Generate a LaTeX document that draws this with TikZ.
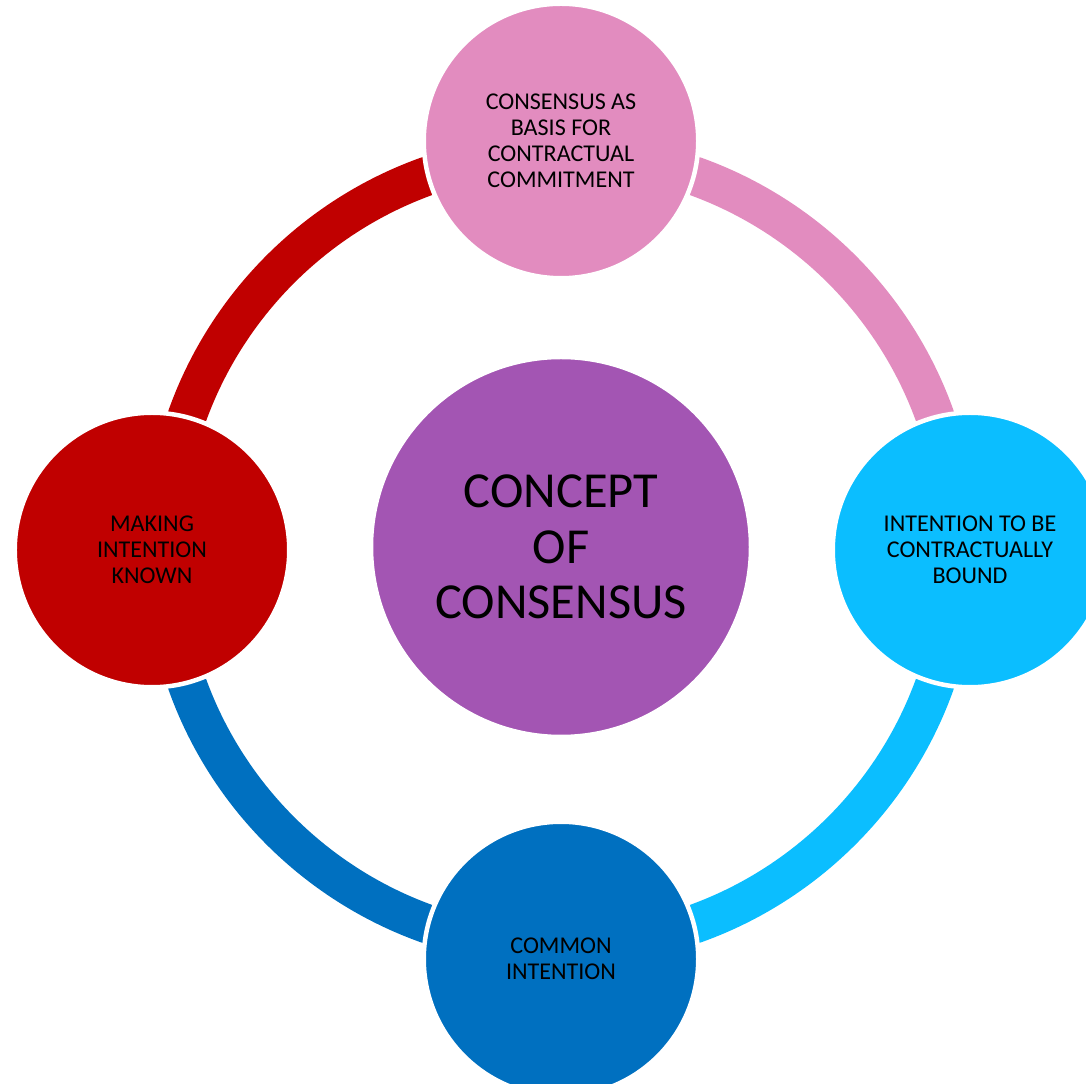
\documentclass[tikz,border=0pt]{standalone}
\usepackage{fontspec}
\setmainfont{Carlito}
\usepackage{tikz}
\definecolor{rosa}{HTML}{E28CBF}
\definecolor{celeste}{HTML}{0BBEFF}
\definecolor{blu}{HTML}{0070C0}
\definecolor{rosso}{HTML}{C00000}
\definecolor{viola}{HTML}{A355B3}

\begin{document}
\begin{tikzpicture}[
		bolla/.style={circle, draw=white, line width=0.09cm, minimum size=5.49cm, inner sep=0pt, align=center, text=black, font=\fontsize{13.7}{14.9}\selectfont},
		anello/.style={line width=0.78cm}]
		%\draw [help lines] (-11,-11) grid (11,11);
		\useasboundingbox (-11.22,-10.66) rectangle (10.50,11.00);
		\coordinate (o) at (0,0);
		% Ring
		\draw [anello, rosa] (o) ++(90:7.94) arc (90:0:7.94);
		\draw [anello, celeste] (o) ++(0:7.94) arc (0:-90:7.94);
		\draw [anello, blu] (o) ++(-90:7.94) arc (-90:-180:7.94);
		\draw [anello, rosso] (o) ++(180:7.94) arc (180:90:7.94);
		% Centre
		\node [bolla, fill=viola, minimum size=7.6cm, font=\fontsize{28.7}{31.4}\selectfont] (centro) at (0,0.06) {CONCEPT\\OF\\CONSENSUS};
		% Outer circles
		\node [bolla, fill=rosa] (alto) at (0,8.18) {CONSENSUS AS\\BASIS FOR\\CONTRACTUAL\\COMMITMENT};
		\node [bolla, fill=celeste] (destra) at (8.18,0) {INTENTION TO BE\\CONTRACTUALLY\\BOUND};
		\node [bolla, fill=blu] (basso) at (0,-8.18) {COMMON\\INTENTION};
		\node [bolla, fill=rosso] (sinistra) at (-8.18,0) {MAKING\\INTENTION\\KNOWN};
	\end{tikzpicture}
\end{document}
